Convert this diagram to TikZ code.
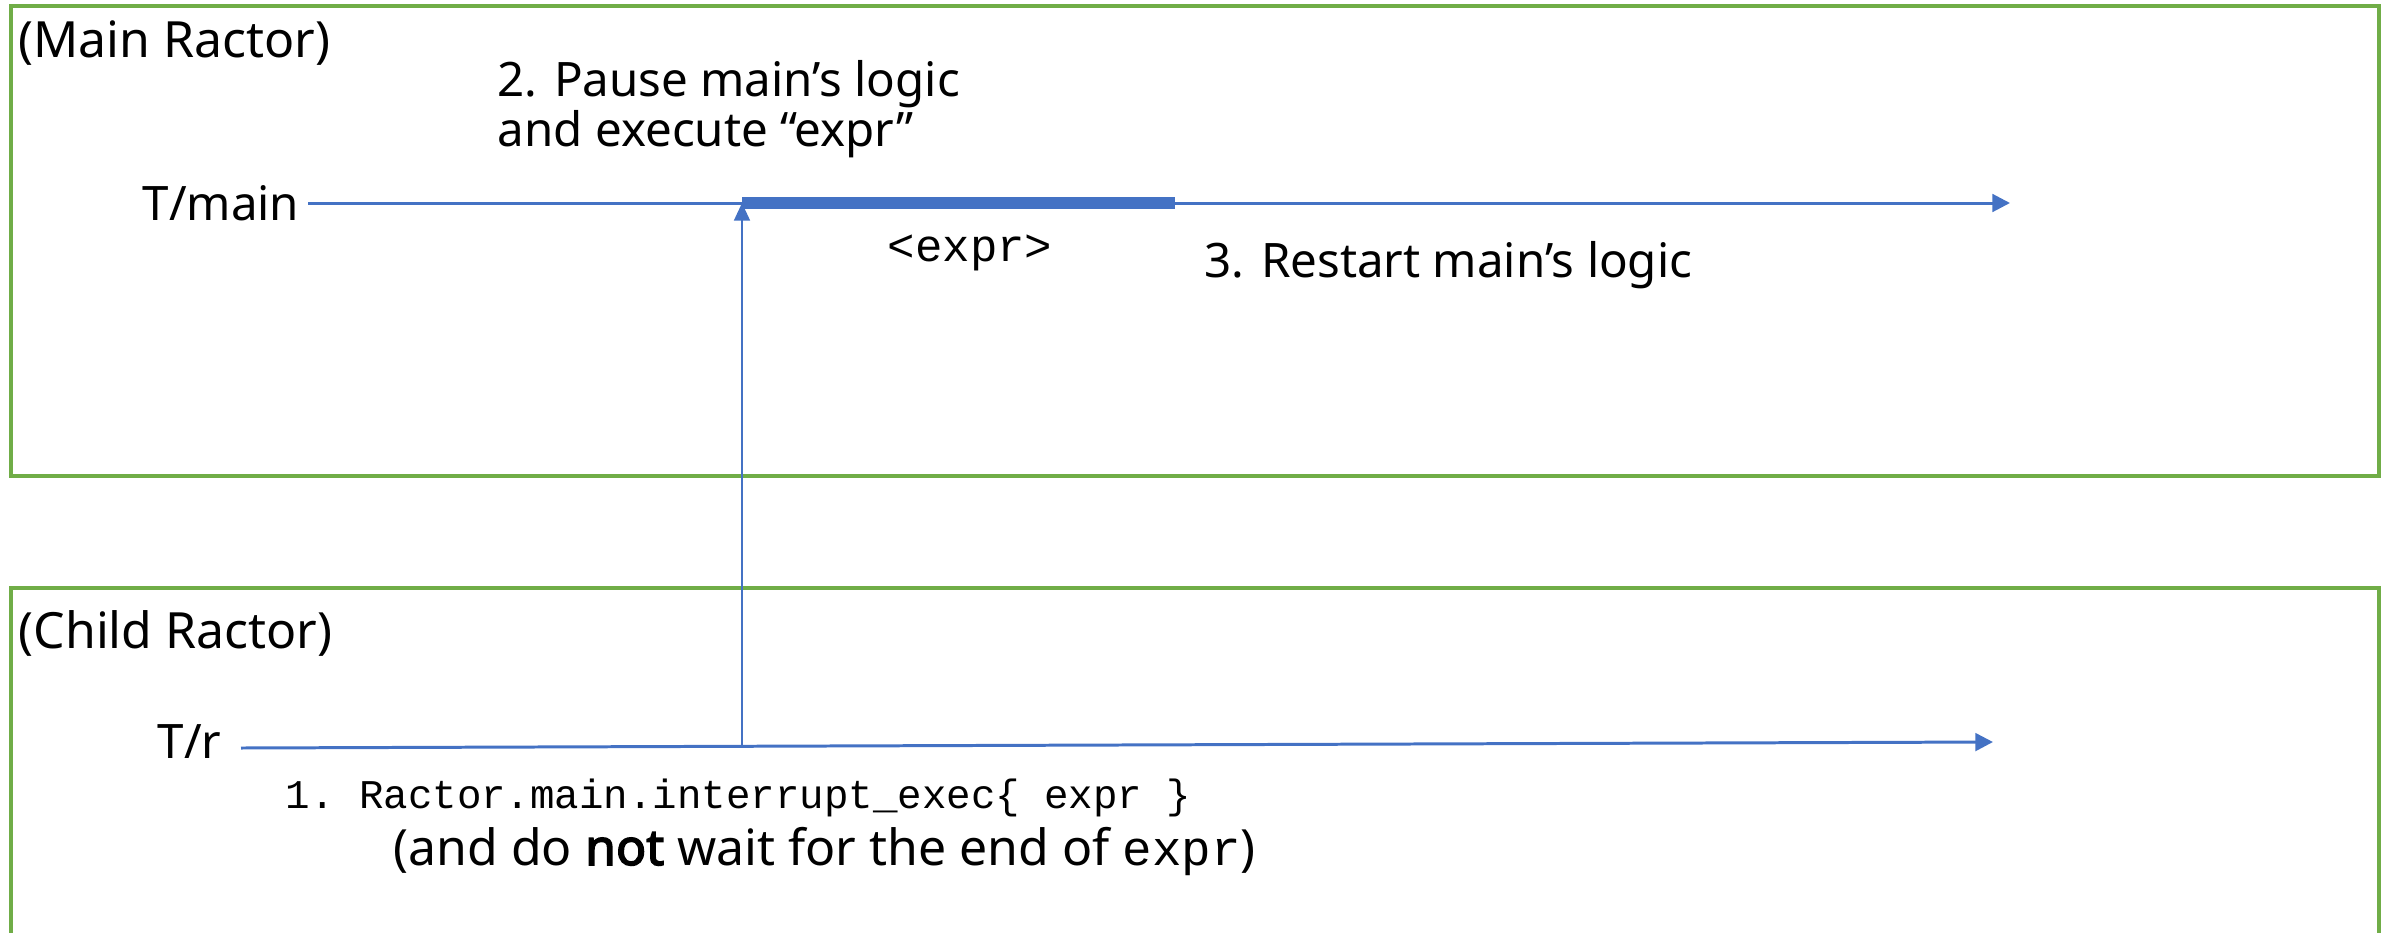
\documentclass[tikz,border=0pt]{standalone}
\usepackage{fontspec}
\setmainfont{Noto Sans}[AutoFakeBold=3]
\setmonofont{Liberation Mono}
\usetikzlibrary{arrows.meta}
\definecolor{ractorgreen}{HTML}{70AD47}
\definecolor{threadblue}{HTML}{4472C4}
\begin{document}
\begin{tikzpicture}[x=0.01cm,y=-0.01cm,
  ractorbox/.style={draw=ractorgreen,line width=0.9pt},
  label/.style={inner sep=0pt,anchor=west,font=\fontsize{13.5}{16}\selectfont},
  title/.style={label,font=\fontsize{14.2}{17}\selectfont},
  codelabel/.style={inner sep=0pt,anchor=west,font=\fontsize{11.6}{14}\ttfamily},
  timeline/.style={draw=threadblue,line width=0.85pt,-{Triangle[length=5pt,width=5pt]}},
  callarrow/.style={draw=threadblue,line width=0.6pt,-{Triangle[length=5pt,width=4.5pt]}},
  busy/.style={draw=threadblue,line width=3.4pt}]
\useasboundingbox (0,0) rectangle (2390,933);

% Ractor frames
\draw[ractorbox] (11,6) rectangle (2379,476);
\draw[ractorbox] (11,960) -- (11,588) -- (2379,588) -- (2379,960);
\node[title] (mainname) at (18,43) {(Main Ractor)};
\node[title] (childname) at (18,633) {(Child Ractor)};

% Thread of the main Ractor
\node[label,anchor=east] (tmain) at (300,203) {T/main};
\coordinate (mainend) at (2010,203);
\coordinate (busystart) at (742,203);
\coordinate (busyend) at (1175,203);
\draw[timeline] (tmain.east) ++(8,0) -- (mainend);
\draw[busy] (busystart) -- (busyend);
\node[codelabel,font=\fontsize{13}{15}\ttfamily] (exprlbl) at (887,253) {<expr>};
\node[label] (step2a) at (497,84) {2. Pause main’s logic};
\node[label] (step2b) at (497,134) {and execute “expr”};
\node[label] (step3) at (1204,265) {3. Restart main’s logic};

% Thread of the child Ractor
\node[label,anchor=east] (tr) at (222,742) {T/r};
\coordinate (rstart) at (241,748);
\coordinate (rend) at (1993,742);
\draw[timeline] (rstart) -- (rend);
\coordinate (fork) at (742,746.2);
\draw[callarrow] (fork) -- (busystart);
\node[codelabel] (step1) at (285,798) {1. Ractor.main.interrupt\_exec\{ expr \}};
\node[label,font=\fontsize{14.2}{17}\selectfont] (step1b) at (393,851) {(and do \textbf{not} wait for the end of {\fontsize{14}{17}\ttfamily expr})};
\end{tikzpicture}
\end{document}
